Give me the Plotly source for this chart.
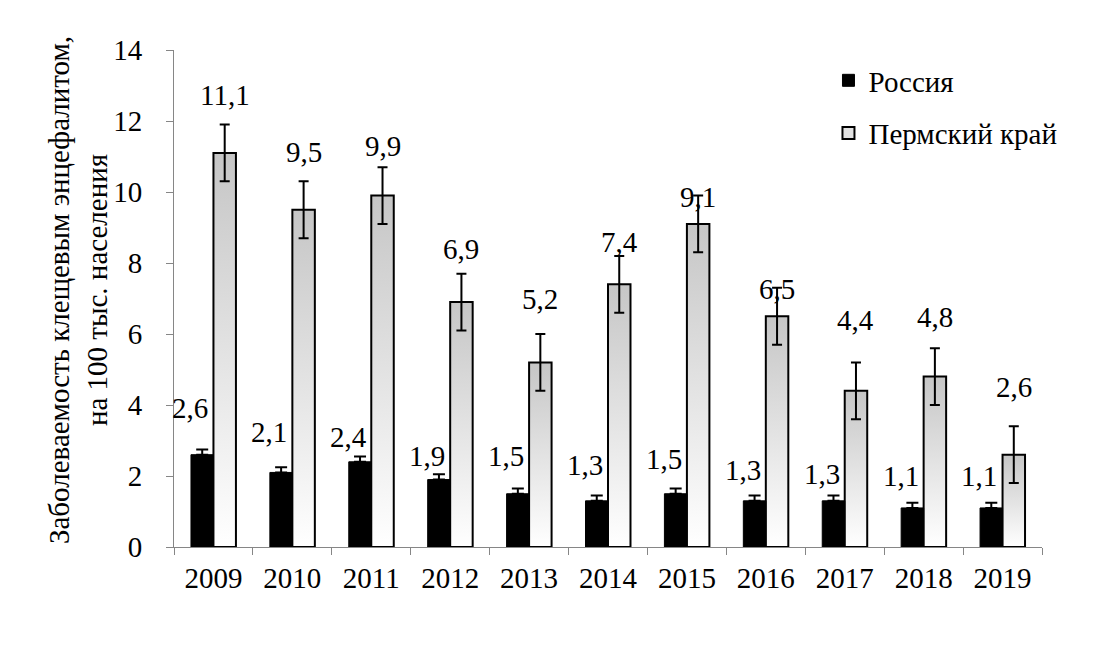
import plotly.graph_objects as go

# ---- data ----
years = ['2009', '2010', '2011', '2012', '2013', '2014', '2015', '2016', '2017', '2018', '2019']
russia = [2.6, 2.1, 2.4, 1.9, 1.5, 1.3, 1.5, 1.3, 1.3, 1.1, 1.1]
perm = [11.1, 9.5, 9.9, 6.9, 5.2, 7.4, 9.1, 6.5, 4.4, 4.8, 2.6]
russia_err_plus = [0.15, 0.15, 0.15, 0.15, 0.15, 0.15, 0.15, 0.15, 0.15, 0.15, 0.15]
perm_err = [0.8, 0.8, 0.8, 0.8, 0.8, 0.8, 0.8, 0.8, 0.8, 0.8, 0.8]
russia_labels = ['2,6', '2,1', '2,4', '1,9', '1,5', '1,3', '1,5', '1,3', '1,3', '1,1', '1,1']
perm_labels = ['11,1', '9,5', '9,9', '6,9', '5,2', '7,4', '9,1', '6,5', '4,4', '4,8', '2,6']

# ---- style / label placement (offsets above bar top, in axis units) ----
BAR_W = 0.285
rus_label_dy = [1.32, 1.15, 0.69, 0.66, 1.06, 1.0, 0.98, 0.87, 0.76, 0.9, 0.9]
perm_label_dy = [1.63, 1.63, 1.40, 1.49, 1.79, 1.20, 0.76, 0.77, 1.99, 1.68, 1.92]
FONT = 'Liberation Serif'
AXIS_COLOR = '#868686'
NUM_SIZE = 29

idx = list(range(len(years)))
fig = go.Figure()

# gradient fills for the Perm bars (base axes, drawn beneath the bars)
for i, v in zip(idx, perm):
    fig.add_trace(go.Scatter(
        x=[i, i, i + BAR_W, i + BAR_W, i], y=[0, v, v, 0, 0],
        mode='lines', fill='toself', line=dict(width=0, color='rgba(0,0,0,0)'),
        fillgradient=dict(type='vertical', colorscale=[[0, '#ffffff'], [1, '#c6c6c6']]),
        hoverinfo='skip', showlegend=False, xaxis='x', yaxis='y'))

# bars (overlay axes, drawn on top of the gradient)
fig.add_trace(go.Bar(
    x=idx, y=russia, width=BAR_W, offset=-BAR_W, name='Россия',
    marker=dict(color='black', line=dict(color='black', width=1)),
    error_y=dict(type='data', symmetric=False, array=russia_err_plus,
                 arrayminus=[0] * len(russia), color='black', thickness=2, width=6),
    xaxis='x2', yaxis='y2', legendgroup='r'))
fig.add_trace(go.Bar(
    x=idx, y=perm, width=BAR_W, offset=0, name='Пермский край', showlegend=False,
    marker=dict(color='rgba(0,0,0,0)', line=dict(color='black', width=2)),
    error_y=dict(type='data', array=perm_err, color='black', thickness=2, width=5),
    xaxis='x2', yaxis='y2', legendgroup='p'))
# legend entry for Perm
fig.add_trace(go.Bar(
    x=[None], y=[None], name='Пермский край',
    marker=dict(color='#e2e2e2', line=dict(color='black', width=2)),
    xaxis='x2', yaxis='y2', legendgroup='p'))

annotations = []
for i, v, t, dy in zip(idx, russia, russia_labels, rus_label_dy):
    annotations.append(dict(x=i - BAR_W / 2 - 0.15, y=v + dy, xref='x', yref='y', text=t,
                            showarrow=False, font=dict(family=FONT, size=NUM_SIZE, color='black')))
for i, v, t, dy in zip(idx, perm, perm_labels, perm_label_dy):
    annotations.append(dict(x=i + BAR_W / 2, y=v + dy, xref='x', yref='y', text=t,
                            showarrow=False, font=dict(family=FONT, size=NUM_SIZE, color='black')))
annotations.append(dict(
    xref='paper', yref='paper', x=-0.1106, y=0.517, xanchor='center', yanchor='middle',
    textangle=-90, showarrow=False,
    text='Заболеваемость клещевым энцефалитом,<br>на 100 тыс. населения',
    font=dict(family=FONT, size=29, color='black')))

fig.update_layout(
    width=1108, height=649,
    margin=dict(l=166, r=74, t=42, b=110),
    paper_bgcolor='white', plot_bgcolor='white',
    barmode='overlay',
    font=dict(family=FONT, size=NUM_SIZE, color='black'),
    xaxis=dict(range=[-0.5, 10.5], tickmode='array', tickvals=idx, ticktext=years,
               ticks='', showline=True, linecolor=AXIS_COLOR, linewidth=1,
               showgrid=False, zeroline=False, ticklabelstandoff=5,
               tickfont=dict(family=FONT, size=NUM_SIZE, color='black'),
               minor=dict(tickmode='linear', tick0=-0.5, dtick=1, ticks='outside',
                          ticklen=7, tickcolor=AXIS_COLOR, tickwidth=1, showgrid=False)),
    yaxis=dict(range=[0, 14], tickmode='linear', tick0=0, dtick=2, ticks='outside',
               ticklen=7, tickcolor=AXIS_COLOR, showline=True, linecolor=AXIS_COLOR,
               linewidth=1, showgrid=False, zeroline=False, ticklabelstandoff=18,
               tickfont=dict(family=FONT, size=NUM_SIZE, color='black')),
    xaxis2=dict(overlaying='x', range=[-0.5, 10.5], visible=False),
    yaxis2=dict(overlaying='y', range=[0, 14], visible=False),
    legend=dict(x=0.754, y=0.99, xanchor='left', yanchor='top', traceorder='grouped',
                tracegroupgap=12, bgcolor='rgba(0,0,0,0)',
                font=dict(family=FONT, size=NUM_SIZE, color='black')),
    annotations=annotations,
    showlegend=True,
)

fig.write_html('out.html')
